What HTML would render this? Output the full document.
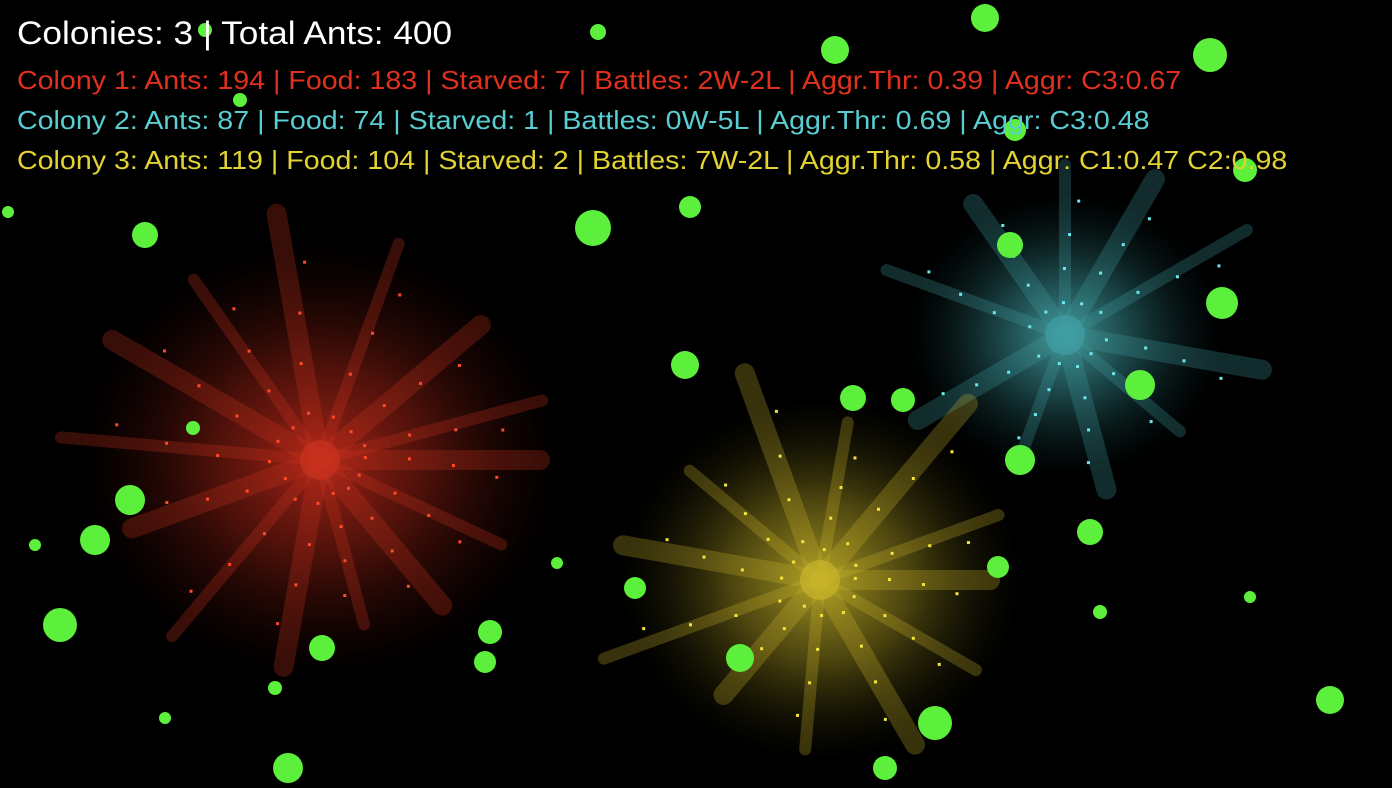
<!DOCTYPE html>
<html><head><meta charset="utf-8"><style>
html,body{margin:0;padding:0;background:#000;width:1392px;height:788px;overflow:hidden}
#stage{position:absolute;left:0;top:0}
.hud{position:absolute;left:17px;font-family:"Liberation Sans",Arial,sans-serif;white-space:nowrap;transform-origin:0 0;transform:scaleX(1.1)}
</style></head><body>
<svg id="stage" width="1392" height="788">
<defs>
<radialGradient id="gr"><stop offset="0" stop-color="#b8281a" stop-opacity="0.9"/><stop offset="0.45" stop-color="#8a1e12" stop-opacity="0.55"/><stop offset="1" stop-color="#3a0a06" stop-opacity="0"/></radialGradient>
<radialGradient id="gc"><stop offset="0" stop-color="#4aa6a8" stop-opacity="0.9"/><stop offset="0.45" stop-color="#2f7c80" stop-opacity="0.5"/><stop offset="1" stop-color="#0c2a2c" stop-opacity="0"/></radialGradient>
<radialGradient id="gy"><stop offset="0" stop-color="#b8a828" stop-opacity="0.9"/><stop offset="0.45" stop-color="#8a7c1a" stop-opacity="0.55"/><stop offset="1" stop-color="#2e2a06" stop-opacity="0"/></radialGradient>
</defs>
<g id="colonies"></g>
<g id="foods"></g>
</svg>
<div class="hud" style="top:15px;font-size:32px;color:#fff">Colonies: 3 | Total Ants: 400</div>
<div class="hud" style="top:65px;font-size:26px;color:#e2301f">Colony 1: Ants: 194 | Food: 183 | Starved: 7 | Battles: 2W-2L | Aggr.Thr: 0.39 | Aggr: C3:0.67</div>
<div class="hud" style="top:105px;font-size:26px;color:#58cdd2">Colony 2: Ants: 87 | Food: 74 | Starved: 1 | Battles: 0W-5L | Aggr.Thr: 0.69 | Aggr: C3:0.48</div>
<div class="hud" style="top:145px;font-size:26px;color:#e2d232">Colony 3: Ants: 119 | Food: 104 | Starved: 2 | Battles: 7W-2L | Aggr.Thr: 0.58 | Aggr: C1:0.47 C2:0.98</div>
<script>
const colonyNames=['colony-1','colony-2','colony-3'];
const colonyX=[320,1065,820];
const colonyY=[460,335,580];
const colonyR=[240,160,200];
const colonyGrad=['gr','gc','gy'];
const colonyTrail=['#c8321e','#3f9ea2','#c8b42a'];
const colonyDot=['#ff4a2a','#6ae8ee','#f4e43c'];
const rayAngles=[[0,25,50,75,100,130,160,185,210,235,260,290,320,345],[10,40,75,110,150,200,235,270,300,330],[0,30,60,95,130,160,190,220,250,280,310,340]];
const rayLens=[[220,200,190,170,210,230,200,260,240,220,250,230,210,230],[200,150,160,140,170,190,160,170,180,210],[170,180,190,170,150,230,200,170,220,160,230,190]];
const foodX=[985,598,835,1210,205,145,593,690,8,1010,1222,685,853,903,1140,1020,193,130,95,35,60,322,490,485,635,740,1090,998,1100,1250,935,885,1330,288,275,165,557,1245,240,1015];
const foodY=[18,32,50,55,30,235,228,207,212,245,303,365,398,400,385,460,428,500,540,545,625,648,632,662,588,658,532,567,612,597,723,768,700,768,688,718,563,170,100,130];
const foodS=[28,16,28,34,14,26,36,22,12,26,32,28,26,24,30,30,14,30,30,12,34,26,24,22,22,28,26,22,14,12,34,24,28,30,14,12,12,24,14,22];
const NS='http://www.w3.org/2000/svg';
const cg=document.getElementById('colonies');
colonyNames.forEach((n,i)=>{
  const g=document.createElementNS(NS,'g');
  
  
  const e=document.createElementNS(NS,'ellipse');
  e.setAttribute('cx',colonyX[i]);e.setAttribute('cy',colonyY[i]);
  e.setAttribute('rx',colonyR[i]);e.setAttribute('ry',colonyR[i]*0.9);
  e.setAttribute('fill','url(#'+colonyGrad[i]+')');
  g.appendChild(e);
  rayAngles[i].forEach((a,k)=>{
    const r=a*Math.PI/180,L=rayLens[i][k];
    const l=document.createElementNS(NS,'line');
    
    
    l.setAttribute('x1',colonyX[i]);l.setAttribute('y1',colonyY[i]);
    l.setAttribute('x2',colonyX[i]+Math.cos(r)*L);l.setAttribute('y2',colonyY[i]+Math.sin(r)*L);
    l.setAttribute('stroke',colonyTrail[i]);l.setAttribute('stroke-width',k%2?12:20);
    l.setAttribute('stroke-opacity',0.28);l.setAttribute('stroke-linecap','round');
    g.appendChild(l);
    for(let d=0.2;d<1;d+=0.2){
      const c=document.createElementNS(NS,'rect');
      
      
      const rr=r+(d-0.5)*0.3;
      c.setAttribute('x',colonyX[i]+Math.cos(rr)*L*d);c.setAttribute('y',colonyY[i]+Math.sin(rr)*L*d);
      c.setAttribute('width',3);c.setAttribute('height',3);c.setAttribute('fill',colonyDot[i]);
      g.appendChild(c);
    }
  });
  const core=document.createElementNS(NS,'circle');
  core.setAttribute('cx',colonyX[i]);core.setAttribute('cy',colonyY[i]);core.setAttribute('r',20);
  core.setAttribute('fill',colonyTrail[i]);core.setAttribute('opacity',0.7);
  g.appendChild(core);
  cg.appendChild(g);
});
const fg=document.getElementById('foods');
foodX.forEach((x,i)=>{
  const c=document.createElementNS(NS,'circle');
  
  
  c.setAttribute('cx',x);c.setAttribute('cy',foodY[i]);c.setAttribute('r',foodS[i]/2);
  c.setAttribute('fill','#5cf03c');
  fg.appendChild(c);
});
</script>
</body></html>
